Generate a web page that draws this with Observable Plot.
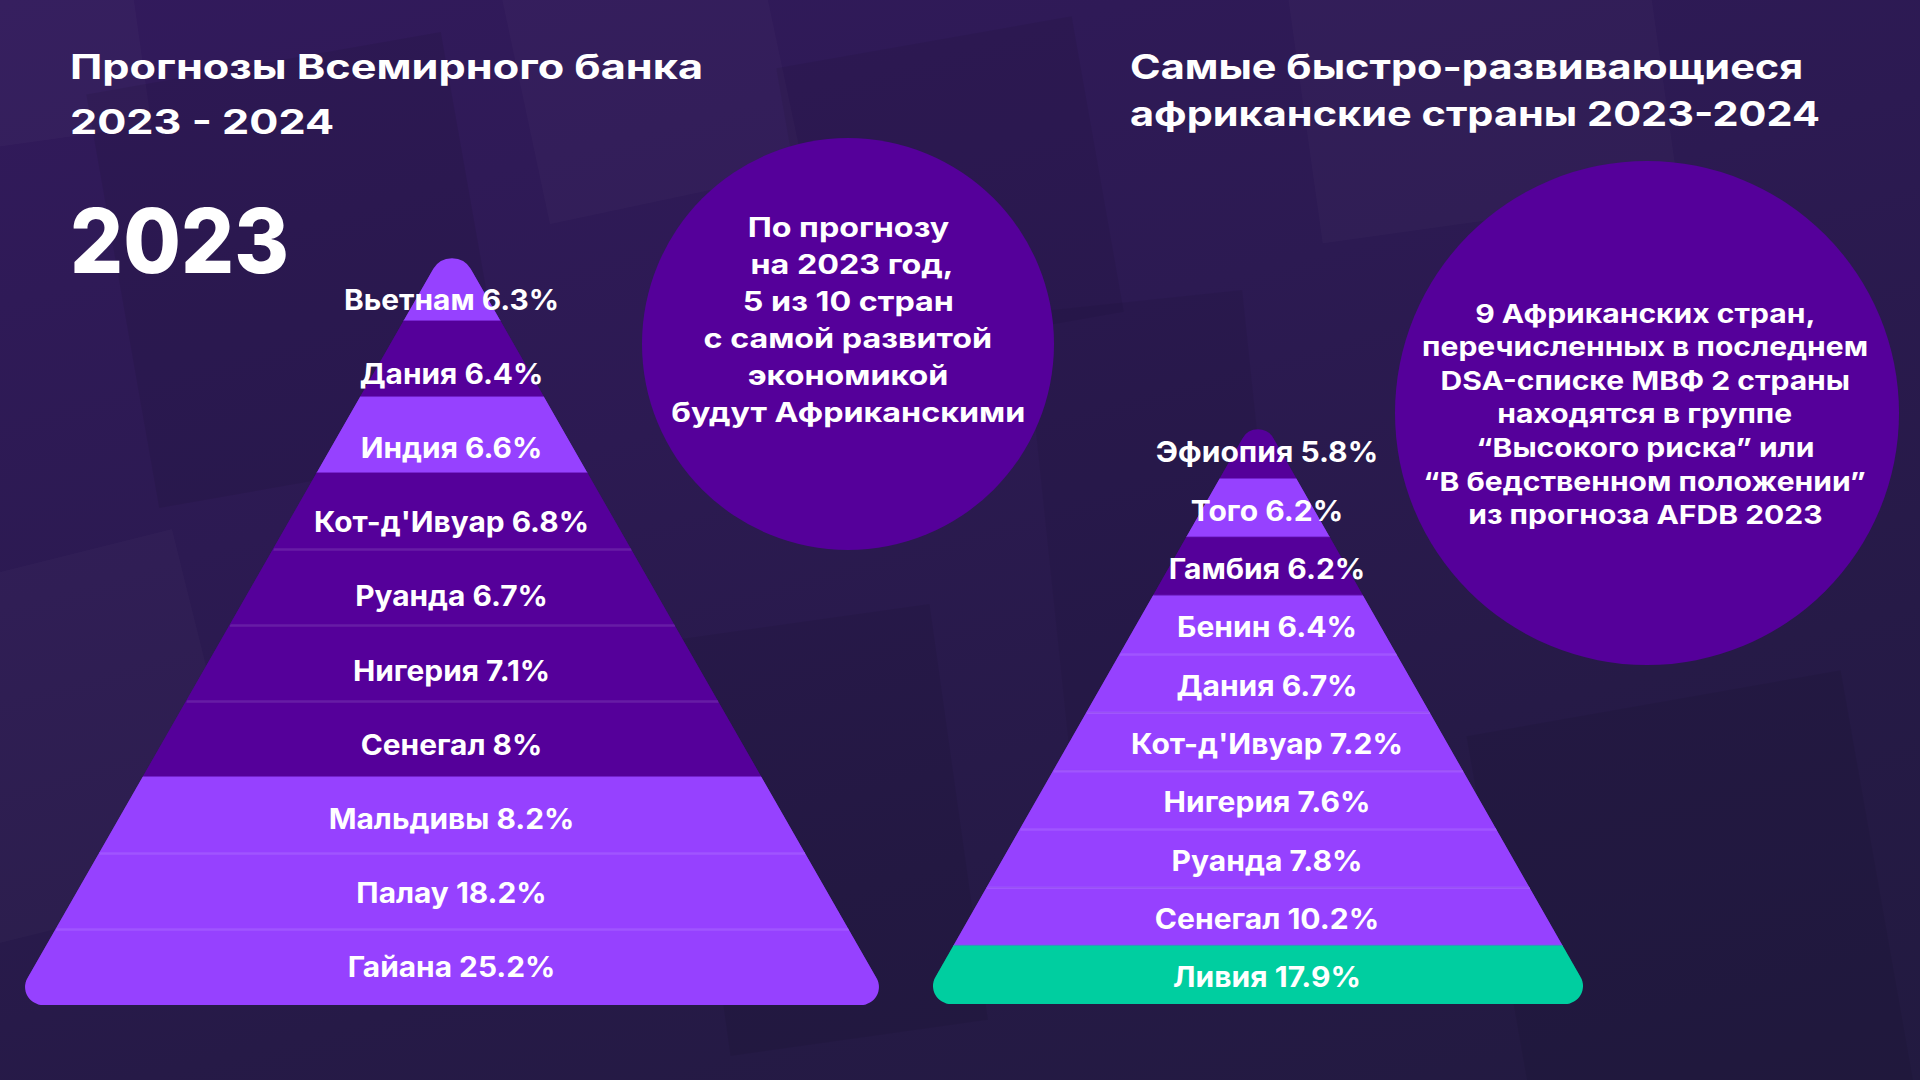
<!DOCTYPE html>
<html lang="ru">
<head>
<meta charset="utf-8">
<script src="https://cdn.jsdelivr.net/npm/d3@7"></script>
<script src="https://cdn.jsdelivr.net/npm/@observablehq/plot@0.6"></script>
<style>
  html, body { margin: 0; padding: 0; background: #281a4a; }
  #root {
    position: relative; width: 1920px; height: 1080px; overflow: hidden;
    font-family: Inter, "Noto Sans", sans-serif; color: #fff;
    background: linear-gradient(165deg, #321a5c 0%, #2c1a52 38%, #261a47 70%, #221a40 100%);
  }
  .deco { position: absolute; }
  .line { position: absolute; white-space: pre; }
  .line span { display: inline-block; }
  .circle { position: absolute; border-radius: 50%; background: #55009a; }
  .plotbox { position: absolute; }
  .plotbox svg { max-width: none !important; overflow: visible; }
</style>
</head>
<body>
<div id="root"></div>
<script>
// ---------- DATA ----------
const leftCountries = ["Вьетнам", "Дания", "Индия", "Кот-д'Ивуар", "Руанда", "Нигерия", "Сенегал", "Мальдивы", "Палау", "Гайана"];
const leftGrowth = [6.3, 6.4, 6.6, 6.8, 6.7, 7.1, 8, 8.2, 18.2, 25.2];
const leftGroup = ["other", "africa", "other", "africa", "africa", "africa", "africa", "other", "other", "other"];

const rightCountries = ["Эфиопия", "Того", "Гамбия", "Бенин", "Дания", "Кот-д'Ивуар", "Нигерия", "Руанда", "Сенегал", "Ливия"];
const rightGrowth = [5.8, 6.2, 6.2, 6.4, 6.7, 7.2, 7.6, 7.8, 10.2, 17.9];
const rightGroup = ["risk", "listed", "risk", "listed", "listed", "listed", "listed", "listed", "listed", "top"];

const leftTitle = ["Прогнозы Всемирного банка", "2023 - 2024"];
const rightTitle = ["Самые быстро-развивающиеся", "африканские страны 2023-2024"];
const yearLabel = "2023";
const leftNote = ["По прогнозу", " на 2023 год,", "5 из 10 стран", "с самой развитой", "экономикой", "будут Африканскими"];
const rightNote = ["9 Африканских стран,", "перечисленных в последнем", "DSA-списке МВФ 2 страны", "находятся в группе", "“Высокого риска” или", "“В бедственном положении”", "из прогноза AFDB 2023"];

const groupColor = {africa: "#55009a", other: "#9641ff", risk: "#55009a", listed: "#9641ff", top: "#00cea0"};

// ---------- HELPERS ----------
const root = document.getElementById("root");
const NS = "http://www.w3.org/2000/svg";

function el(tag, cls, style, parent = root) {
  const e = document.createElement(tag);
  if (cls) e.className = cls;
  Object.assign(e.style, style || {});
  parent.appendChild(e);
  return e;
}

// a text line whose cap-centre sits at y (Inter: cap centre == line-box centre)
function textLine(text, {x, y, size, weight = 700, align = "left", width = 0, lh = 60}) {
  const d = el("div", "line", {
    top: (y - lh / 2) + "px", lineHeight: lh + "px", fontSize: size + "px", fontWeight: weight,
    left: (align === "center" ? x - width / 2 : x) + "px",
    width: align === "center" ? width + "px" : "auto", textAlign: align
  });
  const s = el("span", null, {transformOrigin: align === "center" ? "50% 50%" : "0 50%"}, d);
  s.textContent = text;
  return s;
}

// stretch a set of spans horizontally so that the reference one reaches target width
function stretch(spans, refIndex, target) {
  const w = spans[refIndex].getBoundingClientRect().width;
  const k = target / w;
  spans.forEach(s => s.style.transform = `scaleX(${k})`);
}

function norm(v) { const l = Math.hypot(v[0], v[1]); return [v[0] / l, v[1] / l]; }
function roundedPath(V, R) {
  const n = V.length; let d = "";
  for (let i = 0; i < n; i++) {
    const P = V[(i - 1 + n) % n], C = V[i], N = V[(i + 1) % n];
    const u1 = norm([P[0] - C[0], P[1] - C[1]]), u2 = norm([N[0] - C[0], N[1] - C[1]]);
    const ang = Math.acos(u1[0] * u2[0] + u1[1] * u2[1]);
    const t = R[i] / Math.tan(ang / 2);
    const A = [C[0] + u1[0] * t, C[1] + u1[1] * t], B = [C[0] + u2[0] * t, C[1] + u2[1] * t];
    d += (i === 0 ? "M" : "L") + A[0] + "," + A[1] + "A" + R[i] + "," + R[i] + " 0 0 1 " + B[0] + "," + B[1];
  }
  return d + "Z";
}

// ---------- BACKGROUND DECORATION ----------
[
  {l: -60, t: -40, w: 200, h: 180, r: -8, c: "rgba(255,255,255,0.025)"},
  {l: 120, t: 60, w: 360, h: 420, r: -10, c: "rgba(0,0,0,0.07)"},
  {l: 520, t: -60, w: 260, h: 260, r: -12, c: "rgba(255,255,255,0.02)"},
  {l: 800, t: 40, w: 300, h: 300, r: -10, c: "rgba(0,0,0,0.06)"},
  {l: 1300, t: -80, w: 360, h: 300, r: -8, c: "rgba(255,255,255,0.02)"},
  {l: -80, t: 560, w: 300, h: 360, r: -14, c: "rgba(255,255,255,0.02)"},
  {l: 700, t: 620, w: 260, h: 420, r: -8, c: "rgba(0,0,0,0.06)"},
  {l: 1500, t: 700, w: 380, h: 420, r: -10, c: "rgba(0,0,0,0.06)"},
  {l: 1050, t: 300, w: 220, h: 520, r: -6, c: "rgba(0,0,0,0.05)"}
].forEach(r => el("div", "deco", {left: r.l + "px", top: r.t + "px", width: r.w + "px", height: r.h + "px", background: r.c, transform: `rotate(${r.r}deg)`}));

// ---------- CIRCLES ----------
el("div", "circle", {left: (848 - 206) + "px", top: (344 - 206) + "px", width: 412 + "px", height: 412 + "px"});
el("div", "circle", {left: (1647 - 252) + "px", top: (413 - 252) + "px", width: 504 + "px", height: 504 + "px"});

// ---------- PYRAMIDS ----------
function pyramid({countries, growth, groups, apex, centerX, apexPx, halfWidthPx, heightPx, tipR, baseR, labelStart, labelStep, labelDx, refIndex, refWidth, id}) {
  const n = countries.length, m = 24;
  const hw = y => (y - apex) / (n - apex);
  const bands = [];
  countries.forEach((c, i) => {
    const y0 = i === 0 ? apex : i, y1 = i + 1;
    for (const y of [y0, y1]) bands.push({band: c, y, x1: -hw(y), x2: hw(y), color: groupColor[groups[i]]});
  });
  const seps = [];
  for (let k = 1; k < n; k++) if (groups[k] === groups[k - 1]) seps.push({y: k, x1: -hw(k), x2: hw(k)});
  const labels = countries.map((c, i) => ({y: labelStart + labelStep * i, text: `${c} ${growth[i]}%`}));

  const W = 2 * halfWidthPx + 2 * m, H = heightPx + 2 * m;
  const plot = Plot.plot({
    width: W, height: H, margin: m,
    x: {domain: [-1, 1], axis: null},
    y: {domain: [apex, n], reverse: true, axis: null},
    color: {type: "identity"},
    style: {background: "transparent", overflow: "visible"},
    marks: [
      Plot.areaX(bands, {y: "y", x1: "x1", x2: "x2", z: "band", fill: "color", stroke: "color", strokeWidth: 0.6}),
      Plot.link(seps, {x1: "x1", x2: "x2", y1: "y", y2: "y", stroke: "white", strokeOpacity: 0.11, strokeWidth: 2.5}),
      Plot.text(labels, {x: 0, y: "y", dx: labelDx, text: "text", fill: "white", fontSize: 28, fontWeight: 700, fontFamily: "Inter, 'Noto Sans', sans-serif"})
    ]
  });
  const box = el("div", "plotbox", {left: (centerX - halfWidthPx - m) + "px", top: (apexPx - m) + "px", width: W + "px", height: H + "px"});
  box.appendChild(plot);

  // rounded silhouette clip, built from the plot's own scales
  const sx = plot.scale("x"), sy = plot.scale("y");
  const fx = sx && sx.apply ? v => sx.apply(v) : v => m + (v + 1) / 2 * (W - 2 * m);
  const fy = sy && sy.apply ? v => sy.apply(v) : v => m + (v - apex) / (n - apex) * (H - 2 * m);
  const V = [[fx(0), fy(apex)], [fx(1), fy(n)], [fx(-1), fy(n)]];
  const defs = document.createElementNS(NS, "defs");
  const cp = document.createElementNS(NS, "clipPath"); cp.setAttribute("id", id);
  const p = document.createElementNS(NS, "path"); p.setAttribute("d", roundedPath(V, [tipR, baseR, baseR]));
  cp.appendChild(p); defs.appendChild(cp); plot.insertBefore(defs, plot.firstChild);
  plot.querySelectorAll('g[aria-label="area"], g[aria-label="link"]').forEach(g => g.setAttribute("clip-path", `url(#${id})`));

  // widen label glyphs to match reference typography
  const texts = [...plot.querySelectorAll('g[aria-label="text"] text')];
  const k = refWidth / texts[refIndex].getComputedTextLength();
  texts.forEach(t => { const w = t.getComputedTextLength(); t.setAttribute("textLength", w * k); t.setAttribute("lengthAdjust", "spacingAndGlyphs"); });
}

pyramid({countries: leftCountries, growth: leftGrowth, groups: leftGroup, apex: -0.12,
  centerX: 451.5, apexPx: 236, halfWidthPx: 440, heightPx: 769, tipR: 22, baseR: 18,
  labelStart: 0.735, labelStep: 0.974, labelDx: -1, refIndex: 3, refWidth: 275, id: "clipLeft"});
pyramid({countries: rightCountries, growth: rightGrowth, groups: rightGroup, apex: -0.166,
  centerX: 1258, apexPx: 411, halfWidthPx: 338, heightPx: 593, tipR: 18, baseR: 18,
  labelStart: 0.55, labelStep: 1, labelDx: 8.5, refIndex: 5, refWidth: 272, id: "clipRight"});

// ---------- TITLES ----------
const lt = leftTitle.map((t, i) => textLine(t, {x: 70, y: 67 + 55 * i, size: 34}));
stretch(lt, 0, 633);
const rt = rightTitle.map((t, i) => textLine(t, {x: 1130, y: 67 + 47 * i, size: 34}));
stretch(rt, 1, 690);
const yr = textLine(yearLabel, {x: 70, y: 241, size: 89, weight: 800, lh: 100});
stretch([yr], 0, 219);

// ---------- CIRCLE NOTES ----------
const ln = leftNote.map((t, i) => textLine(t, {x: 848, y: 228 + 37 * i, size: 27, align: "center", width: 412, lh: 40}));
stretch(ln, 5, 354);
const rn = rightNote.map((t, i) => textLine(t, {x: 1645, y: 313.5 + 33.6 * i, size: 26, align: "center", width: 504, lh: 36}));
stretch(rn, 1, 446);
</script>
</body>
</html>
